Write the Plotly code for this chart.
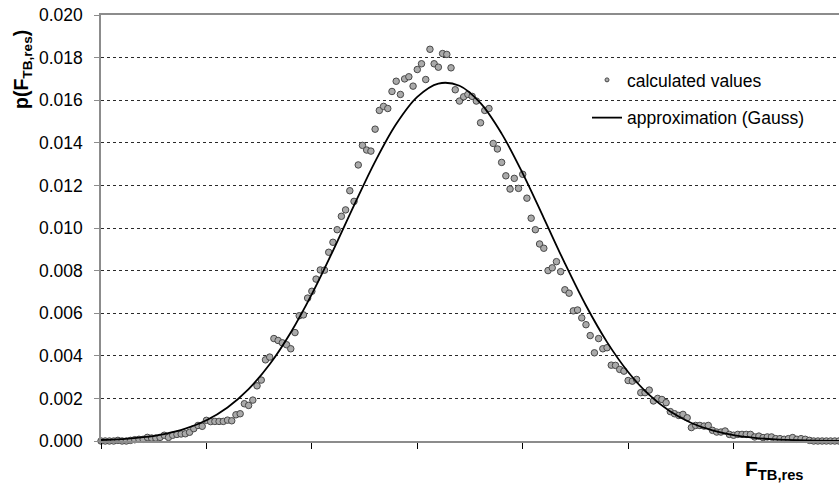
import plotly.graph_objects as go

# Sample index along the F_TB,res axis (no numeric labels are shown on this axis)
bins = list(range(176))

# Calculated probability values p(F_TB,res) per bin
calculated = [
    0.0, 0.0, 0.0, 0.0, 0.00003, 0.0, 0.0, 0.00003, 0.00006, 0.00008,
    0.00008, 0.00017, 0.00014, 0.00014, 0.00017, 0.00027, 0.00017, 0.00027, 0.00031, 0.00033,
    0.00034, 0.00041, 0.00058, 0.00073, 0.00069, 0.00097, 0.00091, 0.00092, 0.00092, 0.00092,
    0.00098, 0.00095, 0.00123, 0.00128, 0.00175, 0.00167, 0.00192, 0.00259, 0.00286, 0.00381,
    0.00394, 0.00481, 0.00472, 0.00461, 0.00452, 0.00433, 0.00509, 0.00588, 0.00592, 0.00671,
    0.00703, 0.00760, 0.00803, 0.00802, 0.00886, 0.00933, 0.00992, 0.01055, 0.01085, 0.01175,
    0.01125, 0.01296, 0.01388, 0.01366, 0.01361, 0.01464, 0.01552, 0.01571, 0.01561, 0.01641,
    0.01689, 0.01627, 0.01700, 0.01710, 0.01666, 0.01744, 0.01771, 0.01697, 0.01839, 0.01771,
    0.01755, 0.01819, 0.01815, 0.01752, 0.01649, 0.01596, 0.01616, 0.01627, 0.01618, 0.01596,
    0.01494, 0.01552, 0.01561, 0.01397, 0.01371, 0.01308, 0.01245, 0.01183, 0.01233, 0.01186,
    0.01252, 0.01140, 0.01046, 0.00992, 0.00925, 0.00905, 0.00800, 0.00813, 0.00842, 0.00795,
    0.00710, 0.00694, 0.00611, 0.00615, 0.00578, 0.00546, 0.00495, 0.00414, 0.00481, 0.00433,
    0.00438, 0.00356, 0.00355, 0.00336, 0.00328, 0.00284, 0.00281, 0.00289, 0.00227, 0.00227,
    0.00239, 0.00188, 0.00200, 0.00195, 0.00180, 0.00138, 0.00128, 0.00120, 0.00125, 0.00109,
    0.00063, 0.00073, 0.00073, 0.00070, 0.00073, 0.00050, 0.00042, 0.00042, 0.00047, 0.00031,
    0.00027, 0.00031, 0.00031, 0.00031, 0.00031, 0.00019, 0.00023, 0.00016, 0.00019, 0.00019,
    0.00011, 0.00011, 0.00008, 0.00011, 0.00016, 0.00008, 0.00011, 0.00008, 0.00003, 0.0,
    0.0, 0.0, 0.0, 0.0, 0.0, 0.0,
]

# Gauss approximation, sampled every 5 bins
gauss_x = list(range(0, 176, 5))
gauss_y = [
    0.000046, 0.000092, 0.000178, 0.000328, 0.000578, 0.000976, 0.001577, 0.002435,
    0.003601, 0.005094, 0.006893, 0.008928, 0.011064, 0.013119, 0.014883, 0.016157,
    0.016782, 0.016678, 0.015861, 0.014432, 0.012564, 0.010465, 0.008341, 0.006360,
    0.004642, 0.003242, 0.002164, 0.001384, 0.000847, 0.000496, 0.000277, 0.000149,
    0.000076, 0.000037, 0.000018, 0.000008,
]

y_ticks = [0.000, 0.002, 0.004, 0.006, 0.008, 0.010, 0.012, 0.014, 0.016, 0.018, 0.020]

FONT = "Liberation Sans, Arial, sans-serif"
W, H = 839, 488
ML, MR, MT, MB = 101, 0, 15, 47
PW, PH = W - ML - MR, H - MT - MB


def px_x(p):
    return (p - ML) / PW


def px_y(p):
    return (H - MB - p) / PH


fig = go.Figure()

fig.add_trace(go.Scatter(
    x=bins, y=calculated, mode="markers",
    marker=dict(size=6.5, color="#aaaaaa", line=dict(color="#484848", width=1)),
    name="calculated values", showlegend=False, cliponaxis=False,
))
fig.add_trace(go.Scatter(
    x=gauss_x, y=gauss_y, mode="lines",
    line=dict(color="#000000", width=1.8, shape="spline", smoothing=1.0),
    name="approximation (Gauss)", showlegend=False,
))
# legend entries
fig.add_trace(go.Scatter(
    x=[None], y=[None], mode="markers",
    marker=dict(size=4, color="#aaaaaa", line=dict(color="#484848", width=1)),
    name="calculated values", legendgroup="a",
))
fig.add_trace(go.Scatter(
    x=[None], y=[None], mode="lines",
    line=dict(color="#000000", width=1.8),
    name="approximation (Gauss)", legendgroup="b",
))

fig.update_layout(
    width=W, height=H,
    margin=dict(l=ML, r=MR, t=MT, b=MB),
    paper_bgcolor="white", plot_bgcolor="white",
    font=dict(family=FONT, size=17.5, color="#000000"),
    showlegend=True,
    legend=dict(
        x=px_x(587), y=px_y(62), xanchor="left", yanchor="top",
        bgcolor="rgba(0,0,0,0)", borderwidth=0,
        font=dict(family=FONT, size=17.5, color="#000000"),
        tracegroupgap=12, traceorder="grouped",
    ),
    shapes=[dict(
        type="rect", xref="paper", yref="paper",
        x0=px_x(570), x1=px_x(835), y0=px_y(140), y1=px_y(58),
        fillcolor="white", line=dict(width=0), layer="between",
    )],
    annotations=[
        dict(
            text="<b>p(F<sub>TB,res</sub>)</b>", textangle=-90,
            xref="paper", yref="paper", x=px_x(22), y=px_y(70),
            xanchor="center", yanchor="middle", showarrow=False,
            font=dict(family=FONT, size=19.5, color="#000000"),
        ),
        dict(
            text="<b>F<sub>TB,res</sub></b>",
            xref="paper", yref="paper", x=px_x(743), y=px_y(470),
            xanchor="left", yanchor="middle", showarrow=False,
            font=dict(family=FONT, size=21, color="#000000"),
        ),
    ],
)

fig.update_xaxes(
    range=[0, 175], tick0=0, dtick=25, showticklabels=False,
    ticks="outside", ticklen=6, tickwidth=1.3, tickcolor="#000000",
    showline=True, linecolor="#8c8c8c", linewidth=1.5, mirror=True,
    showgrid=False, zeroline=False,
)
fig.update_yaxes(
    range=[0, 0.020], tickvals=y_ticks, tickformat=".3f",
    ticks="outside", ticklen=5, tickwidth=1.3, tickcolor="#8c8c8c",
    ticklabelstandoff=8,
    showline=True, linecolor="#8c8c8c", linewidth=1.5,
    showgrid=True, gridcolor="#2a2a2a", gridwidth=1, griddash="3px,3px",
    zeroline=False,
    tickfont=dict(family=FONT, size=17.5, color="#000000"),
)

fig.write_html("out.html")
